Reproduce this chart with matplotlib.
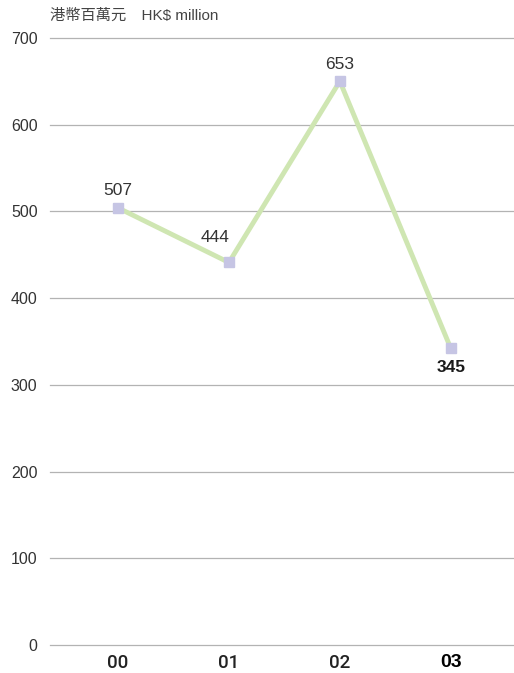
import matplotlib
matplotlib.use("Agg")
import matplotlib.pyplot as plt
import matplotlib.transforms as mtransforms

plt.rcParams['font.family'] = ['Liberation Sans', 'Noto Sans CJK TC', 'DejaVu Sans']

years = ["00", "01", "02", "03"]
values = [507, 444, 653, 345]
yticks = [0, 100, 200, 300, 400, 500, 600, 700]

fig = plt.figure(figsize=(5.14, 6.73), dpi=100)
ax = fig.add_axes([50 / 514, 1 - 645 / 673, 1 - 50 / 514, (645 - 38) / 673])

# the markers sit a couple of pixels under their values in the original
shift = mtransforms.offset_copy(ax.transData, fig=fig, x=0, y=-2.5, units="dots")

x = list(range(len(years)))
ax.plot(x, values, color="#cfe6b2", lw=3.5, zorder=2, transform=shift)
ax.plot(x, values, ls="none", marker="s", ms=7.5, color="#c6c5e4", zorder=3,
        transform=shift)

ax.set_xlim(-0.613, 3.57)
ax.set_ylim(0, 700)
ax.set_yticks(yticks)
ax.set_yticklabels([str(v) for v in yticks])
ax.yaxis.grid(True, color="#b3b3b3", lw=0.9)
for gl in ax.get_ygridlines():
    gl.set_clip_on(False)
ax.set_axisbelow(True)
for s in ax.spines.values():
    s.set_visible(False)
ax.tick_params(axis="y", length=0, pad=9, labelsize=11.5, labelcolor="#333333")
ax.tick_params(axis="x", length=0, pad=6.5)
ax.set_xticks(x)
ax.set_xticklabels(years)
for i, lab in enumerate(ax.get_xticklabels()):
    if i == len(years) - 1:
        lab.set_fontsize(14)
        lab.set_color("#000000")
        lab.set_fontweight("bold")
    else:
        lab.set_fontsize(13.5)
        lab.set_color("#222222")
        lab.set_family(["Roboto", "Liberation Sans"])
        lab.set_fontweight("medium")

offsets = [(0, 5), (-10, 11), (0, 5), (0, -10)]
for i, (xi, v) in enumerate(zip(x, values)):
    dx, dy = offsets[i]
    last = i == len(values) - 1
    ax.annotate(str(v), (xi, v), xytext=(dx, dy), textcoords="offset points",
                ha="center", va="top" if last else "bottom",
                fontsize=12.5, color="#1a1a1a" if last else "#333333",
                fontweight="bold" if last else "normal")

fig.text(50 / 514, 1 - 16 / 673, "港幣百萬元\u2003HK$ million", fontsize=11,
         color="#444444", va="center", ha="left")

fig.savefig("out.png", dpi=100)
